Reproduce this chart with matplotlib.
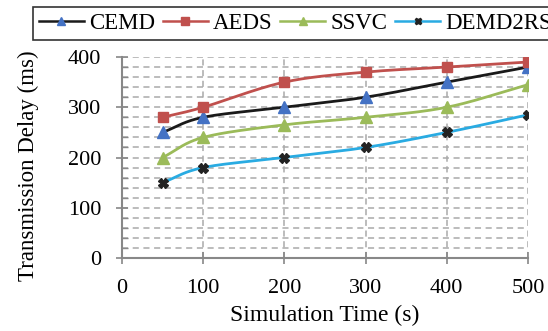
"""Transmission delay vs. simulation time for four schemes."""

import matplotlib

matplotlib.use("Agg")

import matplotlib.pyplot as plt  # noqa: E402
import numpy as np  # noqa: E402

sim_time = [50, 100, 200, 300, 400, 500]
cemd = [250, 280, 300, 320, 350, 380]
aeds = [280, 300, 350, 370, 380, 390]
ssvc = [200, 240, 265, 280, 300, 345]
demd2rs = [150, 180, 200, 220, 250, 285]

plt.rcParams["font.family"] = ["Liberation Serif", "DejaVu Serif"]


def smooth(x, y, n=30):
    """Catmull-Rom style curve through the points, like a spreadsheet 'smoothed line'."""
    x = np.asarray(x, float)
    y = np.asarray(y, float)
    px = np.concatenate([[2 * x[0] - x[1]], x, [2 * x[-1] - x[-2]]])
    py = np.concatenate([[2 * y[0] - y[1]], y, [2 * y[-1] - y[-2]]])
    xs, ys = [], []
    t = np.linspace(0, 1, n)
    k = 1 / 6
    for i in range(1, len(px) - 2):
        p0 = np.array([px[i], py[i]])
        p3 = np.array([px[i + 1], py[i + 1]])
        p1 = p0 + k * (np.array([px[i + 1], py[i + 1]]) - np.array([px[i - 1], py[i - 1]]))
        p2 = p3 - k * (np.array([px[i + 2], py[i + 2]]) - np.array([px[i], py[i]]))
        b = ((1 - t) ** 3)[:, None] * p0 + (3 * (1 - t) ** 2 * t)[:, None] * p1 \
            + (3 * (1 - t) * t ** 2)[:, None] * p2 + (t ** 3)[:, None] * p3
        xs.extend(b[:, 0])
        ys.extend(b[:, 1])
    return xs, ys


series = [
    ("CEMD", cemd, "#1a1a1a", "^", "#4472C4", 8),
    ("AEDS", aeds, "#C0504D", "s", "#C0504D", 7.5),
    ("SSVC", ssvc, "#9BBB59", "^", "#9BBB59", 8),
    ("DEMD2RS", demd2rs, "#29ABE2", "X", "#222222", 6.5),
]

fig = plt.figure(figsize=(5.48, 3.31), dpi=100)
ax = fig.add_axes([0.2226, 0.2205, 0.7409, 0.6073])

handles = []
for name, vals, lc, mk, mc, ms in series:
    sx, sy = smooth(sim_time, vals)
    ax.plot(sx, sy, color=lc, lw=2, zorder=3)
    ax.plot(sim_time, vals, ls="none", marker=mk, ms=ms, color=mc, zorder=4)
    (h,) = ax.plot([], [], color=lc, lw=1.8, marker=mk, ms=ms - 2,
                   markerfacecolor=mc, markeredgecolor=mc)
    handles.append(h)

ax.set_xlim(0, 500)
ax.set_ylim(0, 400)
ax.set_xticks(range(0, 501, 100))
ax.set_yticks(range(0, 401, 100))
ax.set_yticks(range(0, 401, 20), minor=True)
ax.tick_params(axis="both", which="major", labelsize=16, color="#888888",
               direction="inout", length=8, width=1.2)
ax.tick_params(axis="x", which="major", pad=11)
ax.tick_params(axis="y", which="major", pad=11)
ax.tick_params(axis="y", which="minor", direction="in", length=4,
               width=1.0, color="#888888")

grid_kw = dict(color="#aaaaaa", ls=(0, (4, 3)), lw=1.1, zorder=1)
for yv in range(20, 401, 20):
    ax.axhline(yv, **grid_kw)
for xv in range(100, 501, 100):
    ax.axvline(xv, **grid_kw)

for side in ("top", "right"):
    ax.spines[side].set_visible(False)
for side in ("left", "bottom"):
    ax.spines[side].set_color("#888888")
    ax.spines[side].set_linewidth(1.5)

ax.set_xlabel("Simulation Time (s)", fontsize=17, labelpad=5)
ax.set_ylabel("Transmission Delay (ms)", fontsize=16.5)
ax.yaxis.set_label_coords(-0.205, 0.46)

leg = fig.legend(handles, [s[0] for s in series], loc="upper left",
                 bbox_to_anchor=(0.06, 0.979), ncol=4, fontsize=16.5,
                 frameon=True, fancybox=False, handlelength=1.96,
                 handletextpad=0.22, columnspacing=0.35, borderpad=0.26,
                 borderaxespad=0)
leg.get_frame().set_edgecolor("black")
leg.get_frame().set_linewidth(1.2)

fig.savefig("out.png", dpi=100)
